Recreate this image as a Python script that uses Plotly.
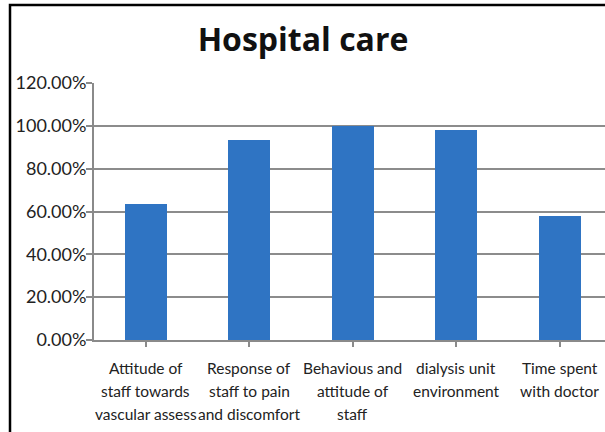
import plotly.graph_objects as go

categories = [
    ["Attitude of", "staff towards", "vascular assess"],
    ["Response of", "staff to pain", "and discomfort"],
    ["Behavious and", "attitude of", "staff"],
    ["dialysis unit", "environment"],
    ["Time spent", "with doctor"],
]
values = [63.5, 93.5, 100.0, 98.0, 58.0]
y_ticks = [0, 20, 40, 60, 80, 100, 120]
y_tick_labels = ["0.00%", "20.00%", "40.00%", "60.00%", "80.00%", "100.00%", "120.00%"]
title_text = "Hospital care"

xs = list(range(len(categories)))

fig = go.Figure()
fig.add_trace(go.Bar(
    x=xs, y=values, width=0.41,
    marker=dict(color="#2F74C3", line=dict(width=0)),
))

annotations = []
for i, lines in enumerate(categories):
    for j, line in enumerate(lines):
        annotations.append(dict(
            x=i, y=0, xref="x", yref="paper", text=line, showarrow=False,
            yanchor="middle", xanchor="center", yshift=-(28 + 23 * j),
            font=dict(family="Lato", size=15.5, color="#222222"),
        ))

W, H = 605, 432
left, top, bottom = 94, 83, 340
fig.update_layout(
    width=W, height=H,
    margin=dict(l=left, r=0, t=top, b=H - bottom, pad=0),
    paper_bgcolor="white", plot_bgcolor="white",
    showlegend=False,
    bargap=0,
    title=dict(text=f"<b>{title_text}</b>", x=303 / W, xref="container", xanchor="center",
               y=1 - 40 / H, yref="container", yanchor="middle",
               font=dict(family="Open Sans", size=32, color="#111111")),
    xaxis=dict(
        range=[-0.5, -0.5 + (W - left) / 103.5],
        tickmode="array", tickvals=xs, showticklabels=False,
        tickson="boundaries", ticks="outside", ticklen=5, tickwidth=2, tickcolor="#8a8a8a",
        showgrid=False, showline=True, linecolor="#8a8a8a", linewidth=2,
        zeroline=False, fixedrange=True,
    ),
    yaxis=dict(
        range=[0, 120], tickmode="array", tickvals=y_ticks, ticktext=y_tick_labels,
        ticks="outside", ticklen=6, tickwidth=2, tickcolor="#8a8a8a",
        showgrid=True, gridcolor="#8c8c8c", gridwidth=1.5,
        showline=True, linecolor="#8a8a8a", linewidth=2, zeroline=False,
        tickfont=dict(family="Lato", size=18, color="#222222"),
        ticklabelstandoff=-4,
    ),
    annotations=annotations,
    shapes=[dict(
        type="rect", xref="paper", yref="paper",
        x0=(10 - left) / (W - left), x1=1.2,
        y0=-1, y1=(bottom - 5) / (bottom - top),
        line=dict(color="black", width=2.5), fillcolor="rgba(0,0,0,0)", layer="above",
    )],
)

fig.write_html("out.html", config={"displayModeBar": False},
               post_script="document.body.style.margin='0';document.body.style.overflow='hidden';")
